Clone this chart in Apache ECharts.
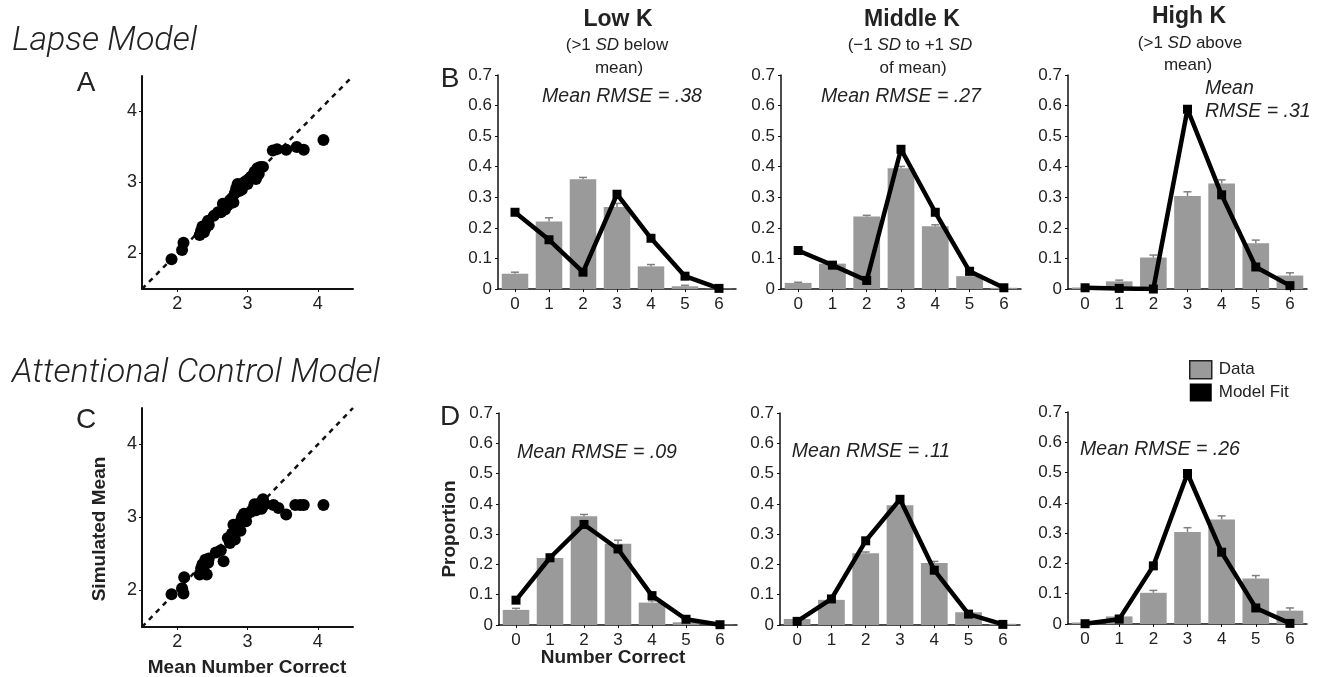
<!DOCTYPE html>
<html>
<head>
<meta charset="utf-8">
<script src="https://cdn.jsdelivr.net/npm/echarts@6/dist/echarts.min.js"></script>
<style>
html,body{margin:0;padding:0;background:#fff;}
#chart{width:1328px;height:677px;}
</style>
</head>
<body>
<div id="chart"></div>
<script>
// ---------- DATA ----------
const categories = ['0','1','2','3','4','5','6'];

// observed proportions (bars) and upper end of error bars
const lowData  = [0.050, 0.221, 0.359, 0.268, 0.074, 0.009, 0.001];
const lowTop   = [0.055, 0.233, 0.365, 0.280, 0.080, 0.012, 0.002];
const midData  = [0.020, 0.083, 0.237, 0.395, 0.205, 0.042, 0.004];
const midTop   = [0.022, 0.087, 0.241, 0.401, 0.210, 0.045, 0.005];
const highData = [0.005, 0.025, 0.103, 0.304, 0.345, 0.150, 0.044];
const highTop  = [0.007, 0.029, 0.111, 0.318, 0.357, 0.160, 0.053];

// model fits
const lapseLow  = [0.251, 0.161, 0.055, 0.310, 0.166, 0.042, 0.002];
const lapseMid  = [0.126, 0.078, 0.028, 0.457, 0.251, 0.058, 0.004];
const lapseHigh = [0.004, 0.002, 0.000, 0.588, 0.308, 0.072, 0.011];
const attnLow   = [0.082, 0.222, 0.332, 0.251, 0.097, 0.019, 0.001];
const attnMid   = [0.012, 0.086, 0.278, 0.415, 0.181, 0.036, 0.002];
const attnHigh  = [0.001, 0.016, 0.192, 0.497, 0.237, 0.053, 0.002];

// scatter: [mean number correct, simulated mean]
const lapseScatter = [
 [1.92,1.92],[2.07,2.05],[2.09,2.15],[2.32,2.26],[2.34,2.32],[2.36,2.38],[2.38,2.30],
 [2.40,2.35],[2.42,2.42],[2.44,2.46],[2.45,2.40],[2.52,2.53],[2.58,2.58],[2.62,2.58],
 [2.65,2.70],[2.68,2.62],[2.72,2.68],[2.75,2.75],[2.78,2.78],[2.80,2.72],[2.82,2.85],
 [2.84,2.92],[2.86,2.98],[2.88,2.88],[2.90,2.95],[2.92,2.90],[2.95,3.00],[2.98,3.02],
 [3.00,2.98],[3.02,3.05],[3.05,3.08],[3.08,3.10],[3.10,3.15],[3.12,3.05],[3.14,3.20],
 [3.16,3.12],[3.18,3.22],[3.22,3.22],[3.36,3.45],[3.42,3.47],[3.55,3.46],[3.70,3.50],
 [3.80,3.46],[4.08,3.60]
];
const attnScatter = [
 [1.92,1.95],[2.07,2.03],[2.09,1.96],[2.10,2.18],[2.32,2.22],[2.34,2.30],[2.36,2.36],
 [2.38,2.26],[2.40,2.42],[2.42,2.22],[2.44,2.38],[2.45,2.44],[2.55,2.52],[2.62,2.55],
 [2.66,2.40],[2.72,2.72],[2.75,2.65],[2.78,2.78],[2.80,2.90],[2.82,2.70],[2.85,2.85],
 [2.88,2.92],[2.90,2.82],[2.92,3.00],[2.95,3.05],[2.98,2.95],[3.00,3.05],[3.05,3.08],
 [3.08,3.12],[3.10,3.18],[3.12,3.10],[3.15,3.15],[3.18,3.20],[3.20,3.12],[3.22,3.25],
 [3.25,3.18],[3.37,3.17],[3.44,3.13],[3.55,3.04],[3.68,3.17],[3.75,3.17],[3.80,3.17],
 [4.08,3.17]
];
const identityLine = [[1.5,1.5],[4.5,4.5]];
const scatterTicks = [2,3,4];
const propTicksMax = 0.7;

// ---------- STYLE ----------
const TICK_FONT = '"Liberation Sans", Arial, sans-serif';
const BAR_COLOR = '#9a9a9a';
const ERR_COLOR = '#808080';

const chart = echarts.init(document.getElementById('chart'), null, {renderer:'canvas'});

const grids = [
  {left:142, top:76,  width:211, height:213}, // A
  {left:142, top:408, width:211, height:219}, // C
  {left:498, top:75,  width:238, height:214}, // B low
  {left:781, top:75,  width:240, height:214}, // B mid
  {left:1068,top:75,  width:239, height:214}, // B high
  {left:499, top:413, width:238, height:212}, // D low
  {left:780, top:413, width:240, height:212}, // D mid
  {left:1068,top:412, width:239, height:212}  // D high
];

const xAxes = [], yAxes = [];
for (let g = 0; g < 2; g++) {
  xAxes.push({gridIndex:g, type:'value', min:1.5, max:4.5,
    axisLine:{show:true, lineStyle:{color:'#111', width:2}},
    axisTick:{show:true, customValues:scatterTicks, length:3, lineStyle:{color:'#111'}},
    axisLabel:{customValues:scatterTicks, color:'#222', fontSize:18, fontFamily:TICK_FONT, margin:6},
    splitLine:{show:false}});
  yAxes.push({gridIndex:g, type:'value', min:1.5, max:4.5,
    axisLine:{show:true, lineStyle:{color:'#111', width:2}},
    axisTick:{show:true, customValues:scatterTicks, length:3, lineStyle:{color:'#111'}},
    axisLabel:{customValues:scatterTicks, color:'#222', fontSize:18, fontFamily:TICK_FONT, margin:5},
    splitLine:{show:false}});
}
for (let g = 2; g < 8; g++) {
  xAxes.push({gridIndex:g, type:'category', data:categories,
    axisLine:{show:true, lineStyle:{color:'#111', width:1.5}},
    axisTick:{show:true, alignWithLabel:true, length:3, lineStyle:{color:'#111'}},
    axisLabel:{color:'#222', fontSize:17, fontFamily:TICK_FONT, margin:7},
    splitLine:{show:false}});
  yAxes.push({gridIndex:g, type:'value', min:0, max:propTicksMax, interval:0.1,
    axisLine:{show:true, lineStyle:{color:'#111', width:1.5}},
    axisTick:{show:true, length:3, lineStyle:{color:'#111'}},
    axisLabel:{color:'#222', fontSize:17, fontFamily:TICK_FONT, margin:6,
      formatter: v => v === 0 ? '0' : v.toFixed(1)},
    splitLine:{show:false}});
}

const series = [];
// scatter panels
[[0, lapseScatter],[1, attnScatter]].forEach(([g, pts]) => {
  series.push({type:'line', xAxisIndex:g, yAxisIndex:g, data:identityLine, symbol:'none',
    silent:true, lineStyle:{color:'#111', width:2.5, type:[5,5]}, z:1});
  series.push({type:'scatter', xAxisIndex:g, yAxisIndex:g, data:pts, symbolSize:12,
    itemStyle:{color:'#000', opacity:1}, z:2});
});

function errSeries(g, vals, tops) {
  return {type:'custom', xAxisIndex:g, yAxisIndex:g, z:3, silent:true,
    data: vals.map((v,i) => [i, v, tops[i]]),
    renderItem: (params, api) => {
      const b = api.coord([api.value(0), api.value(1)]);
      const t = api.coord([api.value(0), api.value(2)]);
      const w = 8;
      return {type:'group', children:[
        {type:'line', shape:{x1:b[0], y1:b[1], x2:b[0], y2:t[1]}, style:{stroke:ERR_COLOR, lineWidth:1.5}},
        {type:'line', shape:{x1:b[0]-w/2, y1:t[1], x2:b[0]+w/2, y2:t[1]}, style:{stroke:ERR_COLOR, lineWidth:1.5}}
      ]};
    }};
}

const panels = [
  [2, lowData, lowTop, lapseLow],
  [3, midData, midTop, lapseMid],
  [4, highData, highTop, lapseHigh],
  [5, lowData, lowTop, attnLow],
  [6, midData, midTop, attnMid],
  [7, highData, highTop, attnHigh]
];
panels.forEach(([g, d, t, fit]) => {
  series.push({name:'Data', type:'bar', xAxisIndex:g, yAxisIndex:g, data:d, barWidth:'78%',
    itemStyle:{color:BAR_COLOR}, z:2});
  series.push(errSeries(g, d, t));
  series.push({name:'Model Fit', type:'line', xAxisIndex:g, yAxisIndex:g, data:fit,
    symbol:'rect', symbolSize:9, lineStyle:{color:'#000', width:4.5},
    itemStyle:{color:'#000'}, z:5});
});

const LIGHT = 'Roboto, Lato, "Open Sans", sans-serif';
function txt(text, x, y, font, opts) {
  return Object.assign({type:'text', x:x, y:y, silent:true,
    style:Object.assign({text:text, textAlign:'center', textVerticalAlign:'middle', fill:'#222', font:font}, (opts && opts.style) || {})},
    (opts && opts.extra) || {});
}
const rmseFont = 'italic 19.5px ' + TICK_FONT;
const hdrFont = 'bold 23px ' + TICK_FONT;
const subFont = '17px ' + TICK_FONT;
const subRich = {i:{fontStyle:'italic', fontSize:17, fontFamily:TICK_FONT, fill:'#222'}};

const graphics = [
  txt('Lapse Model', 12, 41, 'italic 300 34px ' + LIGHT, {style:{textAlign:'left'}}),
  txt('Attentional Control Model', 12, 373, 'italic 300 34px ' + LIGHT, {style:{textAlign:'left'}}),
  txt('A', 86, 83, '28px ' + TICK_FONT),
  txt('C', 86, 420, '28px ' + TICK_FONT),
  txt('B', 450, 79, '28px ' + TICK_FONT),
  txt('D', 450, 417, '28px ' + TICK_FONT),
  txt('Low K', 618, 20, hdrFont),
  txt('(>1 {i|SD} below', 617, 45, subFont, {style:{rich:subRich}}),
  txt('mean)', 619, 68, subFont),
  txt('Middle K', 912, 20, hdrFont),
  txt('(\u22121 {i|SD} to +1 {i|SD}', 910, 45, subFont, {style:{rich:subRich}}),
  txt('of mean)', 913, 68, subFont),
  txt('High K', 1189, 17, hdrFont),
  txt('(>1 {i|SD} above', 1190, 43, subFont, {style:{rich:subRich}}),
  txt('mean)', 1188, 65, subFont),
  txt('Mean RMSE = .38', 622, 97, rmseFont),
  txt('Mean RMSE = .27', 901, 97, rmseFont),
  txt('Mean', 1205, 89, rmseFont, {style:{textAlign:'left'}}),
  txt('RMSE = .31', 1205, 112, rmseFont, {style:{textAlign:'left'}}),
  txt('Mean RMSE = .09', 597, 453, rmseFont),
  txt('Mean RMSE = .11', 871, 452, rmseFont),
  txt('Mean RMSE = .26', 1160, 450, rmseFont),
  txt('Simulated Mean', 100, 529, 'bold 19px ' + TICK_FONT, {extra:{rotation:Math.PI/2}}),
  txt('Mean Number Correct', 247, 668, 'bold 19px ' + TICK_FONT),
  txt('Proportion', 450, 529, 'bold 19px ' + TICK_FONT, {extra:{rotation:Math.PI/2}}),
  txt('Number Correct', 613, 658, 'bold 19px ' + TICK_FONT)
];

chart.setOption({
  animation:false,
  backgroundColor:'#fff',
  grid:grids,
  xAxis:xAxes,
  yAxis:yAxes,
  legend:{
    orient:'vertical', left:1184, top:355, itemWidth:22, itemHeight:18, itemGap:4,
    selectedMode:false,
    textStyle:{fontSize:17, fontFamily:TICK_FONT, color:'#222', padding:[0,0,0,2]},
    data:[
      {name:'Data', icon:'rect', itemStyle:{color:BAR_COLOR, borderColor:'#222', borderWidth:1.5}},
      {name:'Model Fit', icon:'rect', itemStyle:{color:'#000'}}
    ]
  },
  graphic:graphics,
  series:series
});
</script>
</body>
</html>
